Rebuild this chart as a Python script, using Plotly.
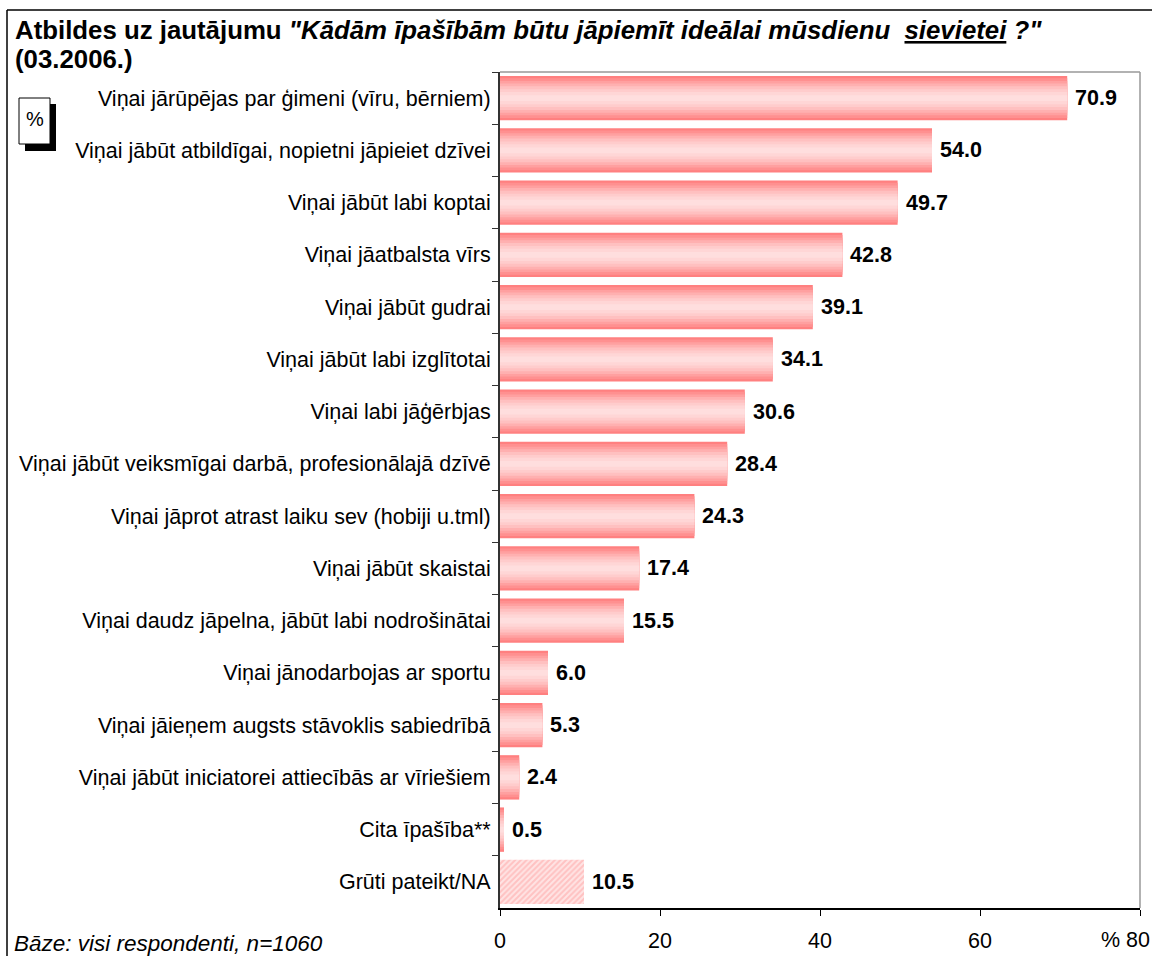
import plotly.graph_objects as go

categories = [
    "Viņai jārūpējas par ģimeni (vīru, bērniem)",
    "Viņai jābūt atbildīgai, nopietni jāpieiet dzīvei",
    "Viņai jābūt labi koptai",
    "Viņai jāatbalsta vīrs",
    "Viņai jābūt gudrai",
    "Viņai jābūt labi izglītotai",
    "Viņai labi jāģērbjas",
    "Viņai jābūt veiksmīgai darbā, profesionālajā dzīvē",
    "Viņai jāprot atrast laiku sev (hobiji u.tml)",
    "Viņai jābūt skaistai",
    "Viņai daudz jāpelna, jābūt labi nodrošinātai",
    "Viņai jānodarbojas ar sportu",
    "Viņai jāieņem augsts stāvoklis sabiedrībā",
    "Viņai jābūt iniciatorei attiecībās ar vīriešiem",
    "Cita īpašība**",
    "Grūti pateikt/NA",
]
values = [70.9, 54.0, 49.7, 42.8, 39.1, 34.1, 30.6, 28.4, 24.3, 17.4, 15.5, 6.0, 5.3, 2.4, 0.5, 10.5]
hatched = [False] * 15 + [True]
x_ticks = [0, 20, 40, 60, 80]
x_tick_labels = ["0", "20", "40", "60", ""]
last_tick_label = "% 80"

FONT = "Liberation Sans, Arial, sans-serif"
FS = 21.5

solid_vals = [None if h else v for v, h in zip(values, hatched)]
hatch_vals = [v if h else None for v, h in zip(values, hatched)]

fig = go.Figure()

# banded gradient: overlay bars of decreasing thickness, lighter towards center
layers = [
    (0.85, "#ff8080"),
    (0.76, "#ff9090"),
    (0.66, "#ffa0a0"),
    (0.56, "#ffb0b0"),
    (0.45, "#ffc0c0"),
    (0.34, "#ffcccc"),
    (0.23, "#ffd6d6"),
    (0.11, "#ffdede"),
]
for w, c in layers:
    fig.add_trace(go.Bar(
        y=categories, x=solid_vals, orientation="h", width=w,
        marker=dict(color=c, line=dict(width=0)),
        hoverinfo="skip", showlegend=False,
    ))

fig.add_trace(go.Bar(
    y=categories, x=hatch_vals, orientation="h", width=0.85,
    marker=dict(color="#ffffff", line=dict(width=0),
                pattern=dict(shape="/", fgcolor="#ff9f9f", bgcolor="#ffe4e4", size=4, solidity=0.5)),
    hoverinfo="skip", showlegend=False,
))

# value labels
for cat, v in zip(categories, values):
    fig.add_annotation(
        x=v, y=cat, xref="x", yref="y", text=f"<b>{v:.1f}</b>", showarrow=False,
        xanchor="left", yanchor="middle", xshift=6,
        font=dict(family=FONT, size=FS, color="#000000"),
    )

fig.update_layout(
    width=1152, height=956,
    margin=dict(l=500, r=12, t=72, b=48, autoexpand=False),
    paper_bgcolor="white", plot_bgcolor="white",
    barmode="overlay",
    font=dict(family=FONT, size=FS, color="#000000"),
    xaxis=dict(
        range=[0, 80], tickvals=x_ticks, ticktext=x_tick_labels,
        showgrid=False, zeroline=False, automargin=False,
        showline=True, linecolor="#000000", linewidth=1.5,
        ticks="outside", ticklen=6, tickcolor="#000000", tickwidth=1,
        tickfont=dict(family=FONT, size=FS), ticklabelstandoff=6,
        fixedrange=True,
    ),
    yaxis=dict(
        categoryorder="array", categoryarray=categories,
        range=[len(categories) - 0.5, -0.5],
        showgrid=False, zeroline=False, automargin=False,
        showline=True, linecolor="#333333", linewidth=2,
        ticks="outside", ticklen=6, tickcolor="#333333", tickson="boundaries",
        tickfont=dict(family=FONT, size=FS), ticklabelstandoff=3,
        fixedrange=True,
    ),
)

# helpers: pixel -> paper coordinates (plot area spans x 500..1140, y 72..908)
def px_x(p):
    return (p - 500) / 640.0

def px_y(p):
    return (908 - p) / 836.0

# last x tick label, right-aligned like the original
fig.add_annotation(
    x=x_ticks[-1], xref="x", yref="paper", y=px_y(940), text=last_tick_label, showarrow=False,
    xanchor="right", yanchor="middle", xshift=12,
    font=dict(family=FONT, size=FS, color="#000000"),
)

# title (two lines)
fig.add_annotation(
    xref="paper", yref="paper", x=px_x(13), y=px_y(14), xanchor="left", yanchor="top",
    text=("<b>Atbildes uz jautājumu <i>\"Kādām īpašībām būtu jāpiemīt ideālai mūsdienu&#160; "
          "<u>sievietei</u> ?\"</i></b>"),
    showarrow=False, font=dict(family=FONT, size=25.8, color="#000000"),
)
fig.add_annotation(
    xref="paper", yref="paper", x=px_x(13), y=px_y(43), xanchor="left", yanchor="top",
    text="<b>(03.2006.)</b>",
    showarrow=False, font=dict(family=FONT, size=25.8, color="#000000"),
)

# plot-area frame (gray top/right)
fig.add_shape(type="line", xref="paper", yref="paper", x0=0, x1=1, y0=1, y1=1,
              line=dict(color="#999999", width=1.5), layer="below")
fig.add_shape(type="line", xref="paper", yref="paper", x0=1, x1=1, y0=0, y1=1,
              line=dict(color="#999999", width=1.5), layer="below")
# outer chart border (left/top)
fig.add_shape(type="line", xref="paper", yref="paper", x0=px_x(7), x1=px_x(1160), y0=px_y(10), y1=px_y(10),
              line=dict(color="#000000", width=1.5))
fig.add_shape(type="line", xref="paper", yref="paper", x0=px_x(7), x1=px_x(7), y0=px_y(10), y1=px_y(970),
              line=dict(color="#000000", width=1.5))
# % box with shadow
fig.add_shape(type="rect", xref="paper", yref="paper", x0=px_x(25), x1=px_x(56), y0=px_y(151), y1=px_y(104),
              fillcolor="#000000", line=dict(width=0))
fig.add_shape(type="rect", xref="paper", yref="paper", x0=px_x(19), x1=px_x(50), y0=px_y(144), y1=px_y(98),
              fillcolor="#ffffff", line=dict(color="#000000", width=1))
fig.add_annotation(xref="paper", yref="paper", x=px_x(34.5), y=px_y(119), text="%", showarrow=False,
                   font=dict(family=FONT, size=20, color="#000000"), xanchor="center", yanchor="middle")
# footnote
fig.add_annotation(xref="paper", yref="paper", x=px_x(12), y=px_y(943), text="<i>Bāze: visi respondenti, n=1060</i>",
                   showarrow=False, xanchor="left", yanchor="middle",
                   font=dict(family=FONT, size=22.5, color="#000000"))

fig.write_html(
    "out.html",
    config={"displayModeBar": False},
    post_script="document.body.style.margin='0px';document.body.style.overflow='hidden';",
)
